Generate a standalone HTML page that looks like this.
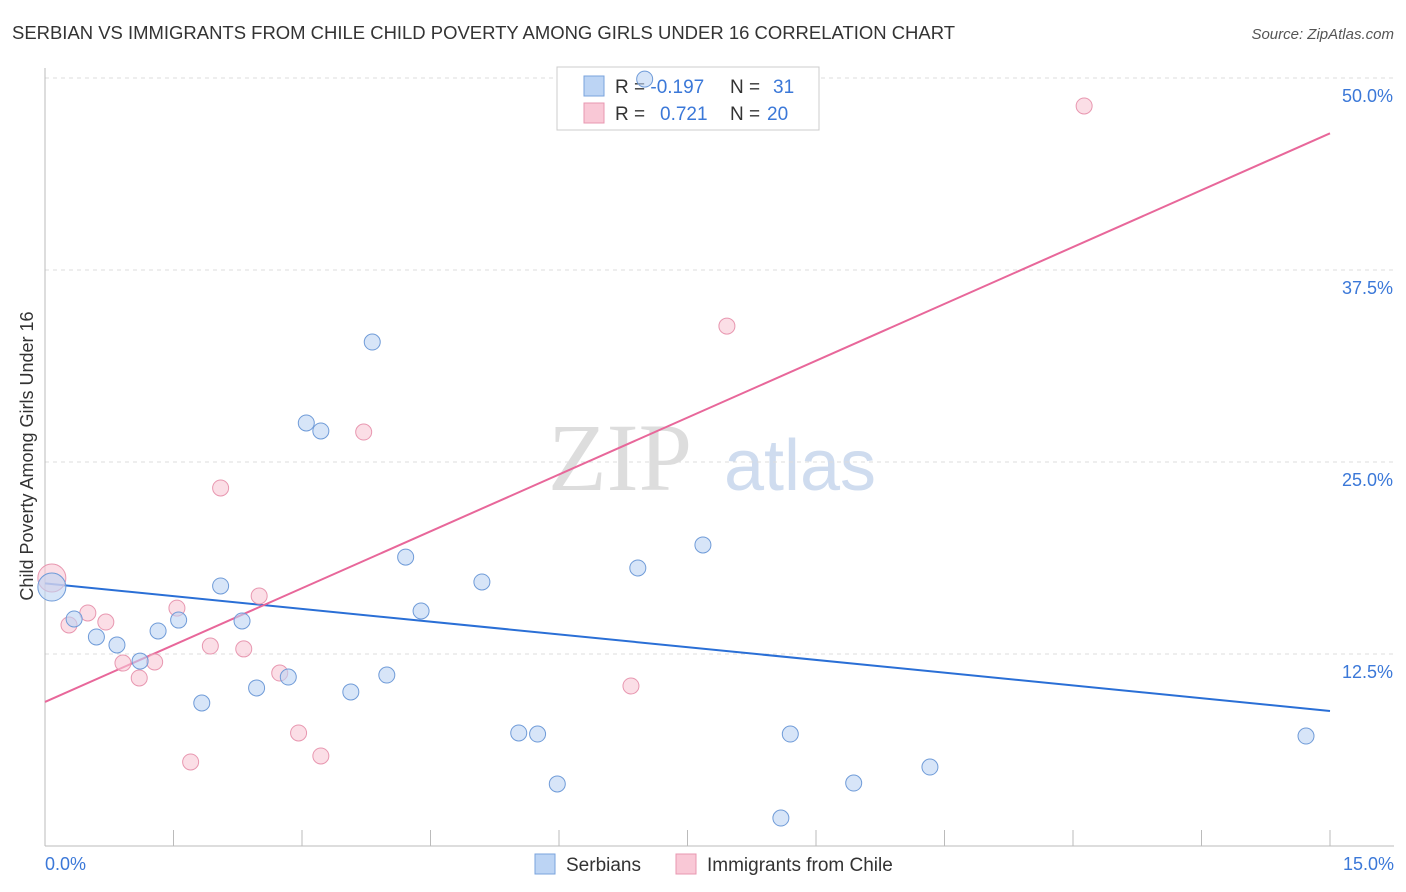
<!DOCTYPE html>
<html><head><meta charset="utf-8">
<style>
body{margin:0;background:#fff;font-family:"Liberation Sans",sans-serif;}
#wrap{position:relative;width:1406px;height:892px;overflow:hidden;}
</style></head>
<body>
<div id="wrap">
<svg id="chart" width="1406" height="892" xmlns="http://www.w3.org/2000/svg">
<text x="12" y="39" font-size="18" fill="#333" textLength="943" lengthAdjust="spacingAndGlyphs">SERBIAN VS IMMIGRANTS FROM CHILE CHILD POVERTY AMONG GIRLS UNDER 16 CORRELATION CHART</text>
<text x="1394" y="39" font-size="15" fill="#555" font-style="italic" text-anchor="end">Source: ZipAtlas.com</text>
<text x="620" y="490" font-size="96" fill="#ddd" font-family="Liberation Serif,serif" text-anchor="middle">ZIP</text>
<text x="800" y="490" font-size="72" fill="#cfdcef" text-anchor="middle">atlas</text>
<text transform="translate(33,456) rotate(-90)" font-size="18" fill="#333" text-anchor="middle">Child Poverty Among Girls Under 16</text>
<g id="grid"></g><g id="axes"></g>
<g>
<rect x="557" y="67" width="262" height="63" fill="#fff" stroke="#ccc"/>
<rect x="584" y="76" width="20" height="20" fill="#bcd4f4" stroke="#7aa3dd"/>
<rect x="584" y="103" width="20" height="20" fill="#f9c8d6" stroke="#e897b0"/>
<text x="615" y="93" font-size="19" fill="#333">R = <tspan fill="#3b78d8">-0.197</tspan><tspan x="730">N = </tspan><tspan fill="#3b78d8" x="773">31</tspan></text>
<text x="615" y="120" font-size="19" fill="#333">R = <tspan fill="#3b78d8" x="660">0.721</tspan><tspan x="730">N = </tspan><tspan fill="#3b78d8" x="767">20</tspan></text>
</g>
<g id="lines"></g><g id="pts"></g>
<g>
<rect x="535" y="854" width="20" height="20" fill="#bcd4f4" stroke="#7aa3dd"/>
<text x="566" y="871" font-size="19" fill="#333">Serbians</text>
<rect x="676" y="854" width="20" height="20" fill="#f9c8d6" stroke="#e897b0"/>
<text x="707" y="871" font-size="19" fill="#333">Immigrants from Chile</text>
</g>
</svg>
</div>
<script>
const yTicks=[12.5,25,37.5,50];
const yTickLabels=["12.5%","25.0%","37.5%","50.0%"];
const xTickLabels=["0.0%","15.0%"];
const serbX=[0.08,0.34,0.60,0.84,1.11,1.32,1.56,1.83,2.05,2.30,2.47,2.84,3.05,3.22,3.57,3.82,3.99,4.21,4.39,5.10,5.53,5.75,5.98,6.92,7.00,7.68,8.59,8.70,9.44,10.33,14.72];
const serbY=[16.86,14.78,13.61,13.09,12.04,14.00,14.71,9.31,16.93,14.65,10.29,11.00,27.54,27.02,10.03,32.81,11.13,18.81,15.30,17.19,7.36,7.29,4.04,18.10,49.93,19.60,1.82,7.29,4.10,5.14,7.16];
const chileX=[0.08,0.28,0.50,0.71,0.91,1.10,1.28,1.54,1.70,1.93,2.05,2.32,2.50,2.74,2.96,3.22,3.72,6.84,7.96,12.13];
const chileY=[17.45,14.39,15.17,14.58,11.91,10.94,11.98,15.49,5.47,13.02,23.31,12.83,16.28,11.26,7.36,5.86,26.95,10.42,33.85,48.18];
const serbTrend=[17.1,8.79];
const chileTrend=[9.38,46.4];
const NS="http://www.w3.org/2000/svg";
const X=v=>45+v/15*1285, Y=v=>846-v/12.5*192;
function mk(t,a,p){const e=document.createElementNS(NS,t);for(const k in a)e.setAttribute(k,a[k]);document.getElementById(p).appendChild(e);return e;}
yTicks.forEach((t,i)=>{
 const g=mk('line',{x1:45,x2:1394,y1:Y(t),y2:Y(t),stroke:'#ddd','stroke-dasharray':'4,4'},'grid');
 
 
 const l=mk('text',{x:1393,y:Y(t)+24,'font-size':18,fill:'#3b78d8','text-anchor':'end'},'grid');l.textContent=yTickLabels[i];
 
 
});
mk('line',{x1:45,x2:45,y1:68,y2:846,stroke:'#bbb'},'axes');
mk('line',{x1:45,x2:1394,y1:846,y2:846,stroke:'#bbb'},'axes');
for(let i=0;i<=10;i++){const t=mk('line',{x1:X(i*1.5),x2:X(i*1.5),y1:830,y2:846,stroke:'#bbb'},'axes');
 
 }
let xl=mk('text',{x:45,y:870,'font-size':18,fill:'#3b78d8'},'axes');xl.textContent=xTickLabels[0];


xl=mk('text',{x:1394,y:870,'font-size':18,fill:'#3b78d8','text-anchor':'end'},'axes');xl.textContent=xTickLabels[1];


function pts(xs,ys,fill,stroke,name){xs.forEach((x,i)=>{const r=i===0?14:8;const c=mk('circle',{cx:X(x),cy:Y(ys[i]),r:r,fill:fill,'fill-opacity':0.6,stroke:stroke},'pts');
 
 });}
pts(chileX,chileY,'#f9c8d6','#e897b0','chile-point');
pts(serbX,serbY,'#bcd4f4','#6f9bd8','serbian-point');
let ln=mk('line',{x1:X(0),x2:X(15),y1:Y(serbTrend[0]),y2:Y(serbTrend[1]),stroke:'#2a6fd6','stroke-width':2},'lines');


ln=mk('line',{x1:X(0),x2:X(15),y1:Y(chileTrend[0]),y2:Y(chileTrend[1]),stroke:'#e8679a','stroke-width':2},'lines');


</script>
</body></html>
